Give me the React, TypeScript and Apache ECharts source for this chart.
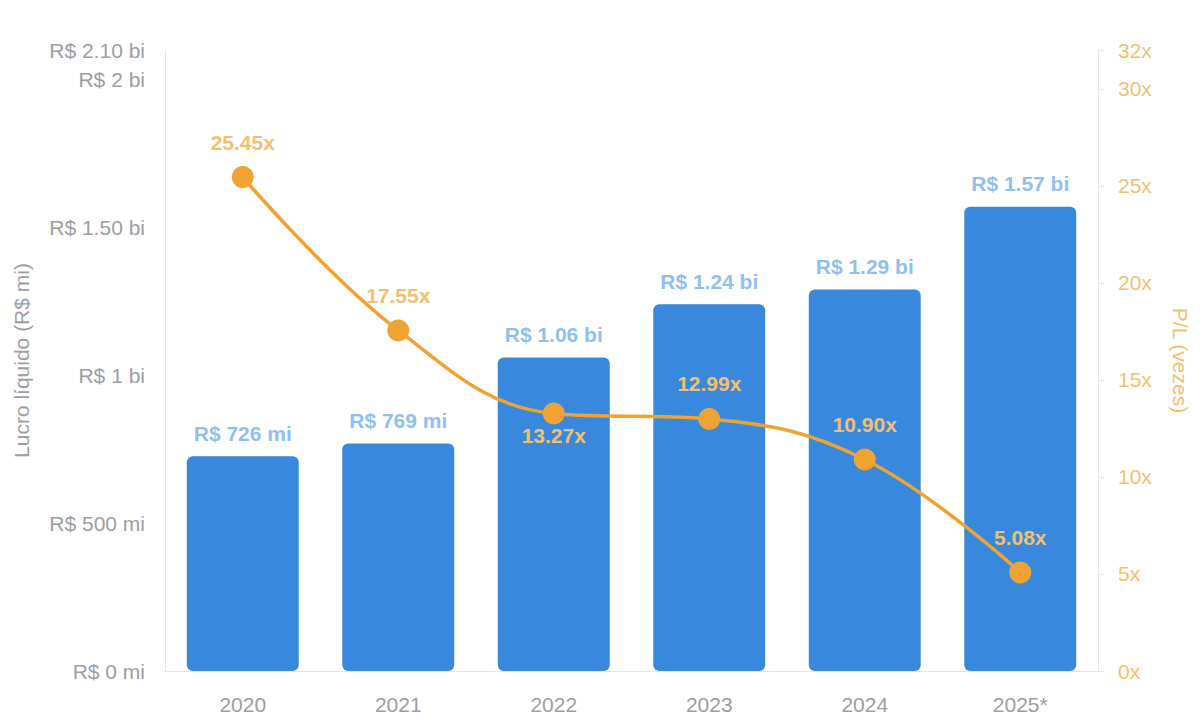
import { useEffect, useRef } from 'react';
import * as echarts from 'echarts';

const years = ['2020', '2021', '2022', '2023', '2024', '2025*'];
// lucro líquido em R$ milhões
const lucro = [726, 769, 1060, 1240, 1290, 1570];
// P/L (vezes)
const pl = [25.45, 17.55, 13.27, 12.99, 10.9, 5.08];
// rótulos do P/L que ficam abaixo do ponto
const plBelow = [false, false, true, false, false, false];

const FONT = '"Liberation Sans", Arial, Helvetica, sans-serif';
const GREY = '#9b9ea6';
const ORANGE = '#f0a232';
const ORANGE_TEXT = '#f5c06e';
const BLUE = '#3889dd';
const BLUE_TEXT = '#8fc0f3';

function fmtReais(v: number): string {
  if (v < 1000) return `R$ ${v} mi`;
  const bi = v / 1000;
  return Number.isInteger(bi) ? `R$ ${bi} bi` : `R$ ${bi.toFixed(2)} bi`;
}

export default function App() {
  const chartRef = useRef<HTMLDivElement>(null);

  useEffect(() => {
    if (!chartRef.current) return;
    const instance = echarts.init(chartRef.current, undefined, { renderer: 'svg' });

    instance.setOption({
      animation: false,
      backgroundColor: '#ffffff',
      textStyle: { fontFamily: FONT },
      grid: { left: 165, right: 102, top: 50, bottom: 55, outerBoundsMode: 'none' },
      xAxis: {
        type: 'category',
        data: years,
        axisLine: { lineStyle: { color: '#e6e6e8', width: 1 } },
        axisTick: { show: false },
        axisLabel: { color: GREY, fontSize: 21, margin: 23, fontFamily: FONT },
      },
      yAxis: [
        {
          type: 'value',
          min: 0,
          max: 2100,
          interval: 500,
          name: 'Lucro líquido (R$ mi)',
          nameLocation: 'middle',
          nameGap: 133,
          nameTextStyle: { color: GREY, fontSize: 21, fontFamily: FONT },
          axisLine: { show: true, lineStyle: { color: '#e6e6e8' } },
          axisTick: { show: false },
          splitLine: { show: false },
          axisLabel: {
            color: GREY,
            fontSize: 21,
            margin: 20,
            fontFamily: FONT,
            formatter: (v: number) => fmtReais(v),
          },
        },
        {
          type: 'value',
          min: 0,
          max: 32,
          interval: 5,
          position: 'right',
          name: 'P/L (vezes)',
          nameLocation: 'middle',
          nameGap: 72,
          nameRotate: -90,
          nameTextStyle: { color: ORANGE_TEXT, fontSize: 21, fontFamily: FONT },
          axisLine: { show: true, lineStyle: { color: '#e6e6e8' } },
          axisTick: { show: true, length: 6, lineStyle: { color: '#e6e6e8' } },
          splitLine: { show: false },
          axisLabel: {
            color: ORANGE_TEXT,
            fontSize: 21,
            margin: 20,
            fontFamily: FONT,
            formatter: (v: number) => `${v}x`,
          },
        },
      ],
      series: [
        {
          type: 'bar',
          yAxisIndex: 0,
          data: lucro,
          barWidth: '72%',
          itemStyle: { color: BLUE, borderRadius: 6 },
          label: {
            show: true,
            position: 'top',
            distance: 12.5,
            color: BLUE_TEXT,
            fontSize: 21,
            fontWeight: 'bold',
            fontFamily: FONT,
            formatter: (p: { value: number }) => fmtReais(p.value),
          },
          z: 1,
        },
        {
          type: 'line',
          yAxisIndex: 1,
          smooth: 0.4,
          data: pl.map((v, i) => ({
            value: v,
            label: plBelow[i]
              ? { position: 'bottom', distance: 1 }
              : { position: 'top', distance: 13.5 },
          })),
          symbol: 'circle',
          symbolSize: 22,
          lineStyle: { color: ORANGE, width: 3.5 },
          itemStyle: { color: ORANGE },
          label: {
            show: true,
            color: ORANGE_TEXT,
            fontSize: 21,
            fontWeight: 'bold',
            fontFamily: FONT,
            formatter: (p: { value: number }) => `${p.value.toFixed(2)}x`,
          },
          z: 3,
        },
      ],
    });

    return () => {
      instance.dispose();
    };
  }, []);

  return (
    <div
      ref={chartRef}
      style={{ position: 'fixed', left: 0, top: 0, width: 1200, height: 726 }}
    />
  );
}
